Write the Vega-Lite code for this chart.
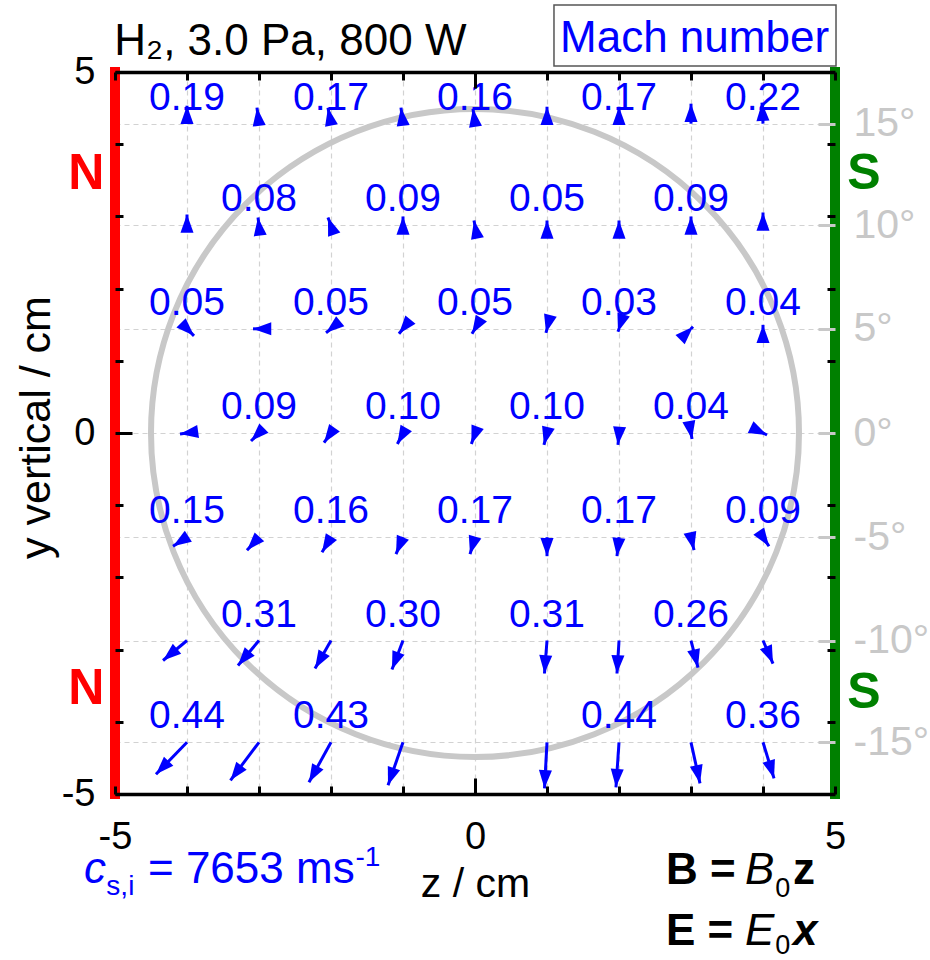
{
  "$schema": "https://vega.github.io/schema/vega-lite/v6.json",
  "width": 720,
  "height": 722,
  "autosize": {"type": "none"},
  "padding": {"left": 115, "top": 72, "right": 95, "bottom": 166},
  "background": "white",
  "config": {
    "view": {"stroke": null},
    "font": "Liberation Sans",
    "axis": {"labelFont": "Liberation Sans", "titleFont": "Liberation Sans"}
  },
  "datasets": {
    "arrows": [
      {"z": -4, "y": 4.284, "zt": -4, "yt": 4.533, "ang": 0},
      {"z": -3, "y": 4.284, "zt": -3.028, "yt": 4.506, "ang": -7},
      {"z": -2, "y": 4.284, "zt": -2.042, "yt": 4.506, "ang": -11},
      {"z": -1, "y": 4.284, "zt": -1.028, "yt": 4.506, "ang": -7},
      {"z": 0, "y": 4.284, "zt": -0.028, "yt": 4.492, "ang": -8},
      {"z": 1, "y": 4.284, "zt": 1, "yt": 4.519, "ang": 0},
      {"z": 2, "y": 4.284, "zt": 2, "yt": 4.519, "ang": 0},
      {"z": 3, "y": 4.284, "zt": 3, "yt": 4.561, "ang": 0},
      {"z": 4, "y": 4.284, "zt": 3.986, "yt": 4.575, "ang": -3},
      {"z": -4, "y": 2.874, "zt": -4, "yt": 3.026, "ang": 0},
      {"z": -3, "y": 2.874, "zt": -3.014, "yt": 2.985, "ang": -7},
      {"z": -2, "y": 2.874, "zt": -2.042, "yt": 2.985, "ang": -20},
      {"z": -1, "y": 2.874, "zt": -1, "yt": 2.999, "ang": 0},
      {"z": 0, "y": 2.874, "zt": -0.014, "yt": 2.943, "ang": -11},
      {"z": 1, "y": 2.874, "zt": 1, "yt": 2.943, "ang": 0},
      {"z": 2, "y": 2.874, "zt": 2, "yt": 2.943, "ang": 0},
      {"z": 3, "y": 2.874, "zt": 3, "yt": 2.999, "ang": 0},
      {"z": 4, "y": 2.874, "zt": 4, "yt": 3.054, "ang": 0},
      {"z": -4, "y": 1.443, "zt": -3.903, "yt": 1.346, "ang": 135},
      {"z": -3, "y": 1.443, "zt": -3.083, "yt": 1.443, "ang": -90},
      {"z": -2, "y": 1.443, "zt": -2.069, "yt": 1.388, "ang": -129},
      {"z": -1, "y": 1.443, "zt": -1.056, "yt": 1.374, "ang": -141},
      {"z": 0, "y": 1.443, "zt": -0.042, "yt": 1.374, "ang": -149},
      {"z": 1, "y": 1.443, "zt": 0.986, "yt": 1.388, "ang": -166},
      {"z": 2, "y": 1.443, "zt": 1.986, "yt": 1.401, "ang": -162},
      {"z": 3, "y": 1.443, "zt": 3.028, "yt": 1.471, "ang": 45},
      {"z": 4, "y": 1.443, "zt": 4, "yt": 1.498, "ang": 0},
      {"z": -4, "y": 0, "zt": -4.097, "yt": -0.014, "ang": -98},
      {"z": -3, "y": 0, "zt": -3.111, "yt": -0.111, "ang": -135},
      {"z": -2, "y": 0, "zt": -2.097, "yt": -0.134, "ang": -145},
      {"z": -1, "y": 0, "zt": -1.078, "yt": -0.152, "ang": -151},
      {"z": 0, "y": 0, "zt": -0.05, "yt": -0.152, "ang": -160},
      {"z": 1, "y": 0, "zt": 0.958, "yt": -0.166, "ang": -166},
      {"z": 2, "y": 0, "zt": 1.986, "yt": -0.166, "ang": -175},
      {"z": 3, "y": 0, "zt": 3.014, "yt": -0.083, "ang": 170},
      {"z": 4, "y": 0, "zt": 4.056, "yt": -0.028, "ang": 116},
      {"z": -4, "y": -1.443, "zt": -4.194, "yt": -1.568, "ang": -123},
      {"z": -3, "y": -1.443, "zt": -3.167, "yt": -1.623, "ang": -137},
      {"z": -2, "y": -1.443, "zt": -2.125, "yt": -1.651, "ang": -149},
      {"z": -1, "y": -1.443, "zt": -1.097, "yt": -1.678, "ang": -158},
      {"z": 0, "y": -1.443, "zt": -0.069, "yt": -1.678, "ang": -164},
      {"z": 1, "y": -1.443, "zt": 1, "yt": -1.706, "ang": 180},
      {"z": 2, "y": -1.443, "zt": 1.972, "yt": -1.706, "ang": -174},
      {"z": 3, "y": -1.443, "zt": 3.042, "yt": -1.623, "ang": 167},
      {"z": 4, "y": -1.443, "zt": 4.083, "yt": -1.568, "ang": 146},
      {"z": -4, "y": -2.874, "zt": -4.333, "yt": -3.151, "ang": -130},
      {"z": -3, "y": -2.874, "zt": -3.292, "yt": -3.22, "ang": -140},
      {"z": -2, "y": -2.874, "zt": -2.222, "yt": -3.262, "ang": -150},
      {"z": -1, "y": -2.874, "zt": -1.153, "yt": -3.276, "ang": -159},
      {"z": 1, "y": -2.874, "zt": 0.965, "yt": -3.331, "ang": -176},
      {"z": 2, "y": -2.874, "zt": 1.972, "yt": -3.331, "ang": -177},
      {"z": 3, "y": -2.874, "zt": 3.097, "yt": -3.248, "ang": 166},
      {"z": 4, "y": -2.874, "zt": 4.139, "yt": -3.193, "ang": 157},
      {"z": -4, "y": -4.284, "zt": -4.431, "yt": -4.727, "ang": -136},
      {"z": -3, "y": -4.284, "zt": -3.396, "yt": -4.81, "ang": -143},
      {"z": -2, "y": -4.284, "zt": -2.306, "yt": -4.838, "ang": -151},
      {"z": -1, "y": -4.284, "zt": -1.208, "yt": -4.88, "ang": -161},
      {"z": 1, "y": -4.284, "zt": 0.965, "yt": -4.921, "ang": -177},
      {"z": 2, "y": -4.284, "zt": 1.958, "yt": -4.907, "ang": -176},
      {"z": 3, "y": -4.284, "zt": 3.125, "yt": -4.852, "ang": 168},
      {"z": 4, "y": -4.284, "zt": 4.153, "yt": -4.783, "ang": 163}
    ],
    "mach": [
      {"z": -4, "y": 4.284, "m": "0.19"}, {"z": -2, "y": 4.284, "m": "0.17"}, {"z": 0, "y": 4.284, "m": "0.16"}, {"z": 2, "y": 4.284, "m": "0.17"}, {"z": 4, "y": 4.284, "m": "0.22"},
      {"z": -3, "y": 2.874, "m": "0.08"}, {"z": -1, "y": 2.874, "m": "0.09"}, {"z": 1, "y": 2.874, "m": "0.05"}, {"z": 3, "y": 2.874, "m": "0.09"},
      {"z": -4, "y": 1.443, "m": "0.05"}, {"z": -2, "y": 1.443, "m": "0.05"}, {"z": 0, "y": 1.443, "m": "0.05"}, {"z": 2, "y": 1.443, "m": "0.03"}, {"z": 4, "y": 1.443, "m": "0.04"},
      {"z": -3, "y": 0, "m": "0.09"}, {"z": -1, "y": 0, "m": "0.10"}, {"z": 1, "y": 0, "m": "0.10"}, {"z": 3, "y": 0, "m": "0.04"},
      {"z": -4, "y": -1.443, "m": "0.15"}, {"z": -2, "y": -1.443, "m": "0.16"}, {"z": 0, "y": -1.443, "m": "0.17"}, {"z": 2, "y": -1.443, "m": "0.17"}, {"z": 4, "y": -1.443, "m": "0.09"},
      {"z": -3, "y": -2.874, "m": "0.31"}, {"z": -1, "y": -2.874, "m": "0.30"}, {"z": 1, "y": -2.874, "m": "0.31"}, {"z": 3, "y": -2.874, "m": "0.26"},
      {"z": -4, "y": -4.284, "m": "0.44"}, {"z": -2, "y": -4.284, "m": "0.43"}, {"z": 2, "y": -4.284, "m": "0.44"}, {"z": 4, "y": -4.284, "m": "0.36"}
    ]
  },
  "layer": [
    {
      "data": {"values": [{"z": 0, "y": 0}]},
      "mark": {"type": "point", "shape": "circle", "filled": false, "stroke": "#c8c8c8", "strokeWidth": 6, "size": 419904, "opacity": 1},
      "encoding": {
        "x": {"field": "z", "type": "quantitative", "scale": {"domain": [-5, 5]},
          "axis": {"orient": "bottom", "values": [-5, -4, -3, -2, -1, 0, 1, 2, 3, 4, 5],
            "labelExpr": "datum.value % 5 === 0 ? '' + datum.value : ''",
            "labelFontSize": 38, "labelColor": "black", "labelOverlap": false, "labelFlush": false,
            "labelPadding": {"condition": {"test": "datum.value === 0", "value": 40}, "value": 32},
            "tickSize": {"condition": {"test": "datum.value === 0", "value": -16}, "value": -8},
            "tickWidth": 3, "tickColor": "black", "domain": true, "domainColor": "black", "domainWidth": 3.5,
            "grid": false, "title": "z / cm", "titleFontSize": 41, "titleFontWeight": "normal", "titleColor": "black",
            "titleBaseline": "top", "titleY": 70, "zindex": 1}},
        "y": {"field": "y", "type": "quantitative", "scale": {"domain": [-5, 5]},
          "axis": {"orient": "left", "values": [-5, -4, -3, -2, -1, 0, 1, 2, 3, 4, 5],
            "labelExpr": "datum.value % 5 === 0 ? '' + datum.value : ''",
            "labelFontSize": 38, "labelColor": "black", "labelOverlap": false, "labelFlush": false,
            "labelPadding": {"condition": {"test": "datum.value === 0", "value": 37}, "value": 28},
            "tickSize": {"condition": {"test": "datum.value === 0", "value": -17}, "value": -8},
            "tickWidth": 3, "tickColor": "black", "domain": false, "grid": false,
            "title": "y vertical / cm", "titleFontSize": 43, "titleFontWeight": "normal", "titleColor": "black",
            "titleX": -66, "titleY": 355, "titleBaseline": "alphabetic", "zindex": 1}}
      }
    },
    {
      "data": {"values": [{"z": -5, "y1": -5, "y2": 5}]},
      "mark": {"type": "rule", "color": "#ff0000", "strokeWidth": 10, "strokeCap": "square"},
      "encoding": {
        "x": {"field": "z", "type": "quantitative", "scale": {"domain": [-5, 5]},
          "axis": {"orient": "top", "values": [-5, -4, -3, -2, -1, 0, 1, 2, 3, 4, 5], "labels": false,
            "tickSize": {"condition": {"test": "datum.value === 0", "value": -16}, "value": -8},
            "tickWidth": 3, "tickColor": "black", "domain": true, "domainColor": "black", "domainWidth": 3.5,
            "grid": false, "title": null, "zindex": 1}},
        "y": {"field": "y1", "type": "quantitative", "scale": {"domain": [-5, 5]},
          "axis": {"orient": "right", "values": [-4, -3, -2, -1, 1, 2, 3, 4], "labels": false,
            "tickSize": -8, "tickWidth": 3, "tickColor": "black", "domain": false, "grid": false, "title": null, "zindex": 1}},
        "y2": {"field": "y2"}
      }
    },
    {
      "data": {"values": [{"z": 5, "y1": -5, "y2": 5}]},
      "mark": {"type": "rule", "color": "#008000", "strokeWidth": 10, "strokeCap": "square"},
      "encoding": {
        "x": {"field": "z", "type": "quantitative", "scale": {"domain": [-5, 5]},
          "axis": {"orient": "bottom", "values": [-4, -3, -2, -1, 0, 1, 2, 3, 4], "grid": true,
            "gridDash": [5, 4], "gridColor": "#d2d2d2", "gridWidth": 1.2, "ticks": false, "labels": false,
            "domain": false, "title": null, "zindex": 0}},
        "y": {"field": "y1", "type": "quantitative", "scale": {"domain": [-5, 5]},
          "axis": {"orient": "right", "values": [4.284, 2.874, 1.443, 0, -1.443, -2.874, -4.284],
            "labelExpr": "round(asin(datum.value / 16.55) * 180 / PI) + '°'",
            "labelFontSize": 41, "labelColor": "#c8c8c8", "labelPadding": 35, "labelOverlap": false, "labelFlush": false,
            "tickSize": -17, "tickWidth": 3, "tickColor": "#c8c8c8", "domain": false, "grid": false, "title": null, "zindex": 1}},
        "y2": {"field": "y2"}
      }
    },
    {
      "data": {"name": "arrows"},
      "mark": {"type": "rule", "color": "#0000ff", "strokeWidth": 3},
      "encoding": {
        "x": {"field": "z", "type": "quantitative", "scale": {"domain": [-5, 5]}, "axis": null},
        "y": {"field": "y", "type": "quantitative", "scale": {"domain": [-5, 5]},
          "axis": {"orient": "left", "values": [4.284, 2.874, 1.443, 0, -1.443, -2.874, -4.284], "grid": true,
            "gridDash": [5, 4], "gridColor": "#d2d2d2", "gridWidth": 1.2, "ticks": false, "labels": false,
            "domain": false, "title": null, "zindex": 0}},
        "x2": {"field": "zt"},
        "y2": {"field": "yt"}
      }
    },
    {
      "data": {"name": "arrows"},
      "mark": {"type": "point", "shape": "M0,0L-1,2.8L1,2.8Z", "filled": true, "size": 170, "opacity": 1, "color": "#0000ff", "strokeWidth": 0},
      "encoding": {
        "x": {"field": "zt", "type": "quantitative", "scale": {"domain": [-5, 5]}, "axis": null},
        "y": {"field": "yt", "type": "quantitative", "scale": {"domain": [-5, 5]}, "axis": null},
        "angle": {"field": "ang", "type": "quantitative", "scale": null}
      }
    },
    {
      "data": {"name": "mach"},
      "mark": {"type": "text", "fontSize": 39, "dy": -26, "baseline": "middle", "align": "center", "color": "#0000ff"},
      "encoding": {
        "x": {"field": "z", "type": "quantitative", "scale": {"domain": [-5, 5]}, "axis": null},
        "y": {"field": "y", "type": "quantitative", "scale": {"domain": [-5, 5]}, "axis": null},
        "text": {"field": "m", "type": "nominal"}
      }
    },
    {
      "data": {"values": [{"z1": 1.097, "z2": 5.014, "y1": 5.083, "y2": 5.928}]},
      "mark": {"type": "rect", "fill": "white", "stroke": "#555555", "strokeWidth": 1.5},
      "encoding": {
        "x": {"field": "z1", "type": "quantitative", "scale": {"domain": [-5, 5]}, "axis": null},
        "x2": {"field": "z2"},
        "y": {"field": "y1", "type": "quantitative", "scale": {"domain": [-5, 5]}, "axis": null},
        "y2": {"field": "y2"}
      }
    },
    {
      "data": {"values": [{"z": 1.181, "y": 5.277, "t": "Mach number"}]},
      "mark": {"type": "text", "fontSize": 44, "color": "#0000ff", "baseline": "alphabetic", "align": "left"},
      "encoding": {
        "x": {"field": "z", "type": "quantitative", "scale": {"domain": [-5, 5]}, "axis": null},
        "y": {"field": "y", "type": "quantitative", "scale": {"domain": [-5, 5]}, "axis": null},
        "text": {"field": "t", "type": "nominal"}
      }
    },
    {
      "data": {"values": [{"z": -5.01, "y": 5.235, "t": "H₂, 3.0 Pa, 800 W"}]},
      "mark": {"type": "text", "fontSize": 44, "color": "black", "baseline": "alphabetic", "align": "left"},
      "encoding": {
        "x": {"field": "z", "type": "quantitative", "scale": {"domain": [-5, 5]}, "axis": null},
        "y": {"field": "y", "type": "quantitative", "scale": {"domain": [-5, 5]}, "axis": null},
        "text": {"field": "t", "type": "nominal"}
      }
    },
    {
      "data": {"values": [{"z": -5.4, "y": 3.59, "t": "N"}, {"z": -5.4, "y": -3.55, "t": "N"}]},
      "mark": {"type": "text", "fontSize": 50, "fontWeight": "bold", "color": "#ff0000", "baseline": "middle", "align": "center"},
      "encoding": {
        "x": {"field": "z", "type": "quantitative", "scale": {"domain": [-5, 5]}, "axis": null},
        "y": {"field": "y", "type": "quantitative", "scale": {"domain": [-5, 5]}, "axis": null},
        "text": {"field": "t", "type": "nominal"}
      }
    },
    {
      "data": {"values": [{"z": 5.4, "y": 3.59, "t": "S"}, {"z": 5.4, "y": -3.6, "t": "S"}]},
      "mark": {"type": "text", "fontSize": 50, "fontWeight": "bold", "color": "#008000", "baseline": "middle", "align": "center"},
      "encoding": {
        "x": {"field": "z", "type": "quantitative", "scale": {"domain": [-5, 5]}, "axis": null},
        "y": {"field": "y", "type": "quantitative", "scale": {"domain": [-5, 5]}, "axis": null},
        "text": {"field": "t", "type": "nominal"}
      }
    },
    {
      "data": {"values": [{"z": -5.431, "y": -6.233, "t": "c"}]},
      "mark": {"type": "text", "fontSize": 44, "fontStyle": "italic", "color": "#0000ff", "baseline": "alphabetic", "align": "left"},
      "encoding": {
        "x": {"field": "z", "type": "quantitative", "scale": {"domain": [-5, 5]}, "axis": null},
        "y": {"field": "y", "type": "quantitative", "scale": {"domain": [-5, 5]}, "axis": null},
        "text": {"field": "t", "type": "nominal"}
      }
    },
    {
      "data": {"values": [{"z": -5.12, "y": -6.399, "t": "s,i"}, {"z": -1.66, "y": -5.997, "t": "-1"}]},
      "mark": {"type": "text", "fontSize": 28, "color": "#0000ff", "baseline": "alphabetic", "align": "left"},
      "encoding": {
        "x": {"field": "z", "type": "quantitative", "scale": {"domain": [-5, 5]}, "axis": null},
        "y": {"field": "y", "type": "quantitative", "scale": {"domain": [-5, 5]}, "axis": null},
        "text": {"field": "t", "type": "nominal"}
      }
    },
    {
      "data": {"values": [{"z": -4.542, "y": -6.233, "t": "= 7653 ms"}]},
      "mark": {"type": "text", "fontSize": 44, "color": "#0000ff", "baseline": "alphabetic", "align": "left"},
      "encoding": {
        "x": {"field": "z", "type": "quantitative", "scale": {"domain": [-5, 5]}, "axis": null},
        "y": {"field": "y", "type": "quantitative", "scale": {"domain": [-5, 5]}, "axis": null},
        "text": {"field": "t", "type": "nominal"}
      }
    },
    {
      "data": {"values": [{"z": 2.653, "y": -6.247, "t": "B ="}, {"z": 2.653, "y": -7.09, "t": "E ="}, {"z": 4.417, "y": -6.247, "t": "z"}]},
      "mark": {"type": "text", "fontSize": 44, "fontWeight": "bold", "color": "black", "baseline": "alphabetic", "align": "left"},
      "encoding": {
        "x": {"field": "z", "type": "quantitative", "scale": {"domain": [-5, 5]}, "axis": null},
        "y": {"field": "y", "type": "quantitative", "scale": {"domain": [-5, 5]}, "axis": null},
        "text": {"field": "t", "type": "nominal"}
      }
    },
    {
      "data": {"values": [{"z": 3.75, "y": -6.247, "t": "B"}, {"z": 3.75, "y": -7.09, "t": "E"}]},
      "mark": {"type": "text", "fontSize": 44, "fontStyle": "italic", "color": "black", "baseline": "alphabetic", "align": "left"},
      "encoding": {
        "x": {"field": "z", "type": "quantitative", "scale": {"domain": [-5, 5]}, "axis": null},
        "y": {"field": "y", "type": "quantitative", "scale": {"domain": [-5, 5]}, "axis": null},
        "text": {"field": "t", "type": "nominal"}
      }
    },
    {
      "data": {"values": [{"z": 4.17, "y": -6.427, "t": "0"}, {"z": 4.17, "y": -7.215, "t": "0"}]},
      "mark": {"type": "text", "fontSize": 27, "color": "black", "baseline": "alphabetic", "align": "left"},
      "encoding": {
        "x": {"field": "z", "type": "quantitative", "scale": {"domain": [-5, 5]}, "axis": null},
        "y": {"field": "y", "type": "quantitative", "scale": {"domain": [-5, 5]}, "axis": null},
        "text": {"field": "t", "type": "nominal"}
      }
    },
    {
      "data": {"values": [{"z": 4.417, "y": -7.09, "t": "x"}]},
      "mark": {"type": "text", "fontSize": 44, "fontWeight": "bold", "fontStyle": "italic", "color": "black", "baseline": "alphabetic", "align": "left"},
      "encoding": {
        "x": {"field": "z", "type": "quantitative", "scale": {"domain": [-5, 5]}, "axis": null},
        "y": {"field": "y", "type": "quantitative", "scale": {"domain": [-5, 5]}, "axis": null},
        "text": {"field": "t", "type": "nominal"}
      }
    }
  ],
  "resolve": {"axis": {"x": "independent", "y": "independent"}}
}
